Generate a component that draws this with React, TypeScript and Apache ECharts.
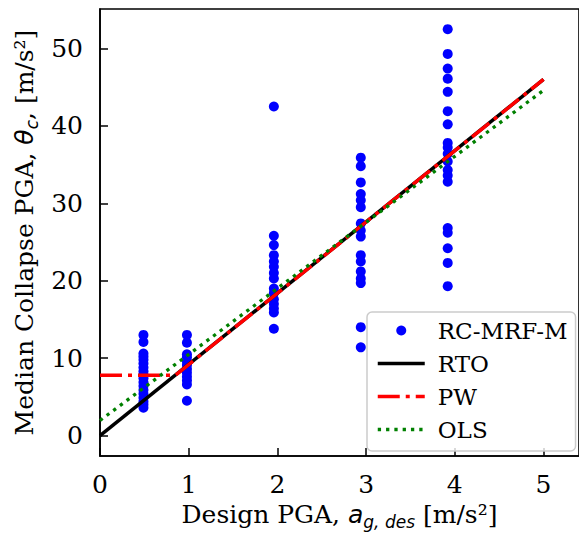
import React, { useEffect, useRef } from "react";
import * as echarts from "echarts";

// Design PGA levels (m/s²)
const xLevels = [0.49, 0.98, 1.96, 2.94, 3.92];
// Median collapse PGA values per design level
const col1 = [13.0, 12.1, 10.6, 10.2, 9.8, 9.3, 8.8, 8.3, 7.9, 7.4, 6.9, 6.4, 5.9, 5.4, 4.9, 4.4, 4.0, 3.6];
const col2 = [13.0, 12.0, 10.5, 10.1, 9.6, 9.1, 8.6, 8.1, 7.6, 7.1, 6.6, 4.5];
const col3 = [42.5, 25.8, 24.6, 23.3, 22.5, 21.8, 21.0, 20.3, 19.0, 18.4, 17.6, 17.0, 16.4, 15.9, 13.8];
const col4 = [35.9, 34.8, 32.7, 31.2, 30.4, 29.5, 27.4, 26.5, 25.7, 23.3, 22.5, 21.2, 20.3, 19.7, 14.0, 11.4];
const col5 = [52.5, 49.3, 47.4, 46.1, 44.4, 41.9, 40.2, 37.8, 37.2, 36.4, 35.4, 34.3, 33.6, 32.8, 26.8, 26.2, 24.2, 22.3, 19.3];
const columns = [col1, col2, col3, col4, col5];

// Fit lines
const rtoX = [0, 5];
const rtoY = [0, 46.0];
const pwX = [0, 0.85, 5];
const pwY = [7.8, 7.8, 46.0];
const olsX = [0, 5];
const olsY = [1.95, 44.6];

const xTicks = [0, 1, 2, 3, 4, 5];
const yTicks = [0, 10, 20, 30, 40, 50];

const seriesNames = ["RC-MRF-M", "RTO", "PW", "OLS"];

const SERIF = "DejaVu Serif";
const SANS = "DejaVu Sans";
const FS = 25;
const LEGEND_FS = 23;

const PW_DASH = [22, 6, 4, 6];
const OLS_DASH = [3.3, 5];

export default function App() {
  const ref = useRef<HTMLDivElement>(null);
  useEffect(() => {
    if (!ref.current) return;
    const chart = echarts.init(ref.current, undefined, { renderer: "svg" });
    const scatterData: number[][] = [];
    columns.forEach((col, i) => col.forEach((v) => scatterData.push([xLevels[i], v])));
    const zip = (xs: number[], ys: number[]) => xs.map((x, i) => [x, ys[i]]);

    const nameRich = {
      n: { fontFamily: SERIF, fontSize: FS, color: "#000", lineHeight: 31 },
      i: { fontFamily: SANS, fontStyle: "italic", fontSize: FS, color: "#000", lineHeight: 31 },
      s: { fontFamily: SANS, fontStyle: "italic", fontSize: 17, color: "#000", verticalAlign: "bottom", lineHeight: 20 },
    };

    chart.setOption({
      animation: false,
      backgroundColor: "#ffffff",
      textStyle: { fontFamily: SERIF },
      grid: {
        left: 100,
        top: 9,
        width: 480,
        height: 453,
        show: true,
        borderColor: "#000",
        borderWidth: 1.6,
        backgroundColor: "transparent",
      },
      legend: {
        orient: "vertical",
        left: 367,
        top: 312,
        itemWidth: 47,
        itemHeight: 10,
        itemGap: 10,
        padding: [7, 8, 10, 9],
        backgroundColor: "rgba(255,255,255,0.8)",
        borderColor: "#cccccc",
        borderWidth: 1.5,
        borderRadius: 5,
        textStyle: { fontFamily: SERIF, fontSize: LEGEND_FS, color: "#000", padding: [0, 0, 0, 8] },
        data: [
          { name: seriesNames[0], itemStyle: { color: "#0000ff" } },
          { name: seriesNames[1], itemStyle: { opacity: 0 }, lineStyle: { color: "#000000", width: 3.5, type: "solid" } },
          { name: seriesNames[2], itemStyle: { opacity: 0 }, lineStyle: { color: "#ff0000", width: 3.5, type: PW_DASH } },
          { name: seriesNames[3], itemStyle: { opacity: 0 }, lineStyle: { color: "#008000", width: 3.3, type: OLS_DASH } },
        ],
      },
      xAxis: {
        type: "value",
        min: 0,
        max: 5.4,
        name: "{n|Design PGA, }{i|a}{s|g, des}{n| [m/s²]}",
        nameLocation: "middle",
        nameGap: 43,
        nameTextStyle: { rich: nameRich },
        axisLine: { onZero: false, lineStyle: { color: "#000", width: 1.6 } },
        axisTick: { inside: true, length: 8, customValues: xTicks, lineStyle: { color: "#000", width: 1.5 } },
        axisLabel: { customValues: xTicks, margin: 16, color: "#000", fontFamily: SERIF, fontSize: FS },
        splitLine: { show: false },
      },
      yAxis: {
        type: "value",
        min: -2.64,
        max: 55.1,
        name: "{n|Median Collapse PGA, }{i|θ}{s|c}{n|, [m/s²]}",
        nameLocation: "middle",
        nameGap: 60,
        nameTextStyle: { rich: nameRich },
        axisLine: { onZero: false, lineStyle: { color: "#000", width: 1.6 } },
        axisTick: { inside: true, length: 8, customValues: yTicks, lineStyle: { color: "#000", width: 1.5 } },
        axisLabel: { customValues: yTicks, margin: 17, color: "#000", fontFamily: SERIF, fontSize: FS },
        splitLine: { show: false },
      },
      series: [
        {
          name: seriesNames[0],
          type: "scatter",
          data: scatterData,
          symbol: "circle",
          symbolSize: 10,
          itemStyle: { color: "#0000ff", opacity: 1 },
          z: 2,
        },
        {
          name: seriesNames[1],
          type: "line",
          data: zip(rtoX, rtoY),
          symbol: "none",
          lineStyle: { color: "#000000", width: 3.5, type: "solid", cap: "butt" },
          itemStyle: { color: "#000000" },
          z: 3,
        },
        {
          name: seriesNames[2],
          type: "line",
          data: zip(pwX, pwY),
          symbol: "none",
          lineStyle: { color: "#ff0000", width: 3.5, type: PW_DASH, cap: "butt" },
          itemStyle: { color: "#ff0000" },
          z: 4,
        },
        {
          name: seriesNames[3],
          type: "line",
          data: zip(olsX, olsY),
          symbol: "none",
          lineStyle: { color: "#008000", width: 3.3, type: OLS_DASH, cap: "butt" },
          itemStyle: { color: "#008000" },
          z: 5,
        },
      ],
    });
    return () => chart.dispose();
  }, []);
  return (
    <div
      ref={ref}
      style={{ position: "fixed", left: 0, top: 0, width: 579, height: 535, background: "#fff" }}
    />
  );
}
